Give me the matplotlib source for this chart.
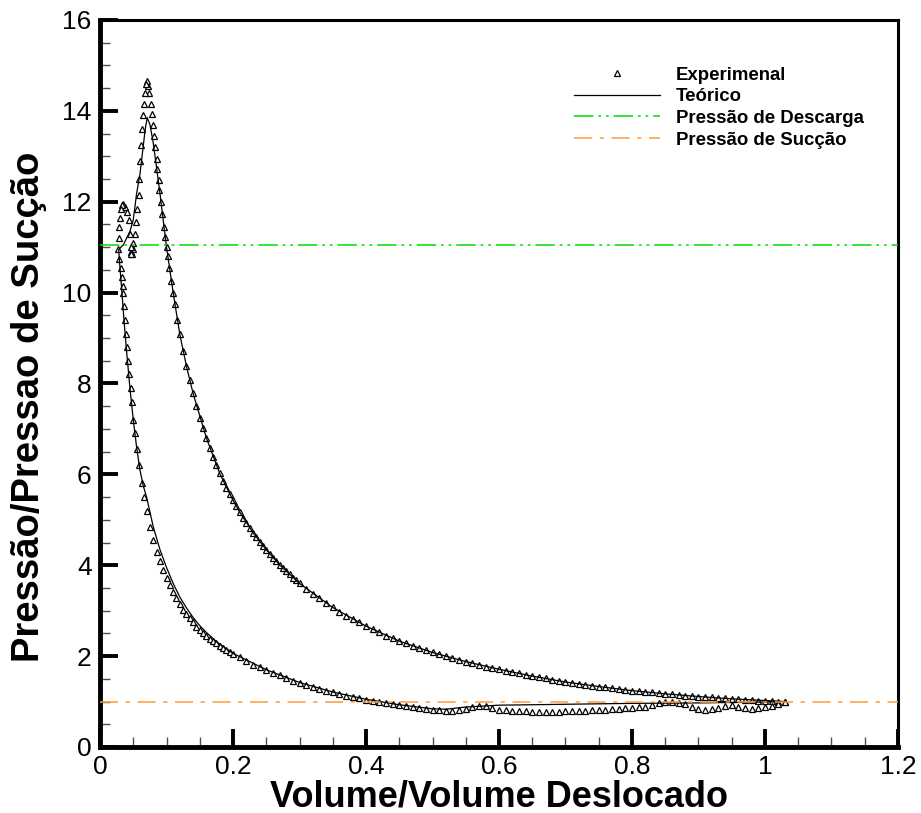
import matplotlib.pyplot as plt
from matplotlib.ticker import MultipleLocator, FuncFormatter

exp_comp_x = [1.03, 1.02, 1.01, 1.00, 0.99, 0.98, 0.97, 0.96, 0.95, 0.94,
              0.93, 0.92, 0.91, 0.90, 0.89, 0.88, 0.87, 0.86, 0.85, 0.84,
              0.83, 0.82, 0.81, 0.80, 0.79, 0.78, 0.77, 0.76, 0.75, 0.74,
              0.73, 0.72, 0.71, 0.70, 0.69, 0.68, 0.67, 0.66, 0.65, 0.64,
              0.63, 0.62, 0.61, 0.60, 0.59, 0.58, 0.57, 0.56, 0.55, 0.54,
              0.53, 0.52, 0.51, 0.50, 0.49, 0.48, 0.47, 0.46, 0.45, 0.44,
              0.43, 0.42, 0.41, 0.40, 0.39, 0.38, 0.37, 0.36, 0.35, 0.34,
              0.33, 0.32, 0.31, 0.30, 0.295, 0.29, 0.285, 0.28, 0.275, 0.27,
              0.265, 0.26, 0.255, 0.25, 0.245, 0.24, 0.235, 0.23, 0.225, 0.22,
              0.215, 0.21, 0.205, 0.20, 0.195, 0.19, 0.185, 0.18, 0.175, 0.17,
              0.165, 0.16, 0.155, 0.15, 0.145, 0.14, 0.135, 0.13, 0.125, 0.12,
              0.116, 0.113, 0.110, 0.107, 0.104, 0.102, 0.100, 0.098, 0.096, 0.093,
              0.091, 0.089, 0.088, 0.086, 0.085, 0.083, 0.081, 0.080, 0.078, 0.076,
              0.074, 0.072, 0.070, 0.069, 0.068, 0.066, 0.064, 0.063, 0.061, 0.060,
              0.059, 0.058, 0.056, 0.054, 0.052, 0.050, 0.049, 0.048, 0.047, 0.046,
              0.047, 0.045, 0.043, 0.040, 0.038, 0.035, 0.033, 0.031, 0.030, 0.029,
              0.028, 0.0275]
exp_comp_y = [1.00, 1.00, 1.01, 1.01, 1.02, 1.03, 1.04, 1.05, 1.06, 1.07,
              1.08, 1.09, 1.10, 1.11, 1.12, 1.13, 1.14, 1.16, 1.17, 1.18,
              1.20, 1.21, 1.23, 1.24, 1.26, 1.27, 1.29, 1.31, 1.33, 1.35,
              1.37, 1.39, 1.41, 1.43, 1.46, 1.48, 1.51, 1.53, 1.56, 1.59,
              1.62, 1.65, 1.68, 1.71, 1.74, 1.77, 1.81, 1.84, 1.88, 1.92,
              1.96, 2.00, 2.04, 2.08, 2.13, 2.18, 2.22, 2.28, 2.33, 2.39,
              2.45, 2.52, 2.59, 2.66, 2.74, 2.81, 2.89, 2.98, 3.07, 3.17,
              3.27, 3.37, 3.48, 3.60, 3.67, 3.73, 3.80, 3.87, 3.94, 4.01,
              4.09, 4.17, 4.25, 4.34, 4.43, 4.52, 4.62, 4.72, 4.83, 4.94,
              5.05, 5.17, 5.30, 5.43, 5.57, 5.71, 5.86, 6.02, 6.20, 6.38,
              6.58, 6.80, 7.02, 7.25, 7.50, 7.78, 8.07, 8.38, 8.72, 9.08,
              9.40, 9.75, 10.00, 10.25, 10.55, 10.80, 11.00, 11.23, 11.45, 11.74,
              12.00, 12.25, 12.48, 12.72, 12.95, 13.20, 13.45, 13.70, 13.94, 14.15,
              14.40, 14.55, 14.65, 14.60, 14.40, 14.15, 13.90, 13.60, 13.25, 12.90,
              12.50, 12.15, 11.85, 11.55, 11.30, 11.10, 10.95, 10.85, 10.90, 10.85,
              11.00, 11.30, 11.60, 11.78, 11.88, 11.95, 11.93, 11.85, 11.65, 11.45,
              11.20, 10.95]

# Experimental points, expansion + suction
exp_expa_x = [0.029, 0.0315, 0.033, 0.034, 0.035, 0.036, 0.0375, 0.039, 0.0405, 0.0425,
              0.044, 0.046, 0.0475, 0.050, 0.052, 0.055, 0.058, 0.0625, 0.066, 0.070,
              0.075, 0.080, 0.085, 0.090, 0.095, 0.100, 0.105, 0.110, 0.115, 0.120,
              0.125, 0.130, 0.135, 0.140, 0.145, 0.150, 0.155, 0.160, 0.165, 0.170,
              0.175, 0.180, 0.185, 0.19, 0.195, 0.20, 0.21, 0.22, 0.23, 0.24,
              0.25, 0.26, 0.27, 0.28, 0.29, 0.30, 0.31, 0.32, 0.33, 0.34,
              0.35, 0.36, 0.37, 0.38, 0.39, 0.40, 0.41, 0.42, 0.43, 0.44,
              0.45, 0.46, 0.47, 0.48, 0.49, 0.50, 0.51, 0.52, 0.53, 0.54,
              0.55, 0.56, 0.57, 0.58, 0.59, 0.60, 0.61, 0.62, 0.63, 0.64,
              0.65, 0.66, 0.67, 0.68, 0.69, 0.70, 0.71, 0.72, 0.73, 0.74,
              0.75, 0.76, 0.77, 0.78, 0.79, 0.80, 0.81, 0.82, 0.83, 0.84,
              0.85, 0.86, 0.87, 0.88, 0.89, 0.90, 0.91, 0.92, 0.93, 0.94,
              0.95, 0.96, 0.97, 0.98, 0.99, 1.00, 1.01, 1.02, 1.03]
exp_expa_y = [10.75, 10.55, 10.35, 10.15, 10.00, 9.70, 9.40, 9.10, 8.80, 8.50,
              8.20, 7.90, 7.60, 7.20, 6.90, 6.55, 6.20, 5.80, 5.50, 5.20,
              4.85, 4.55, 4.30, 4.10, 3.90, 3.72, 3.56, 3.41, 3.27, 3.14,
              3.01, 2.92, 2.83, 2.74, 2.65, 2.57, 2.50, 2.44, 2.38, 2.33,
              2.28, 2.23, 2.18, 2.13, 2.09, 2.05, 1.97, 1.90, 1.81, 1.75,
              1.69, 1.63, 1.58, 1.52, 1.46, 1.41, 1.37, 1.32, 1.28, 1.24,
              1.20, 1.17, 1.13, 1.10, 1.07, 1.04, 1.01, 0.99, 0.96, 0.94,
              0.92, 0.90, 0.88, 0.86, 0.84, 0.82, 0.81, 0.80, 0.80, 0.81,
              0.84, 0.88, 0.91, 0.90, 0.86, 0.82, 0.81, 0.80, 0.79, 0.79,
              0.78, 0.78, 0.78, 0.78, 0.78, 0.79, 0.79, 0.80, 0.80, 0.81,
              0.81, 0.82, 0.83, 0.84, 0.85, 0.86, 0.88, 0.89, 0.93, 0.97,
              1.00, 0.99, 0.97, 0.94, 0.89, 0.84, 0.81, 0.83, 0.86, 0.90,
              0.92, 0.89, 0.85, 0.84, 0.85, 0.87, 0.91, 0.95, 1.00]

# Theoretical cycle
theo_x = [1.03, 0.95, 0.90, 0.85, 0.80, 0.75, 0.70, 0.65, 0.60, 0.55,
          0.50, 0.45, 0.40, 0.35, 0.30, 0.27, 0.25, 0.23, 0.21, 0.20,
          0.18, 0.16, 0.14, 0.13, 0.12, 0.11, 0.10, 0.09, 0.08, 0.075,
          0.071, 0.068, 0.064, 0.060, 0.055, 0.050, 0.045, 0.040, 0.035, 0.030,
          0.028, 0.030, 0.033, 0.036, 0.040, 0.045, 0.050, 0.055, 0.060, 0.065,
          0.070, 0.080, 0.090, 0.100, 0.110, 0.120, 0.130, 0.140, 0.150, 0.160,
          0.175, 0.20, 0.25, 0.30, 0.35, 0.40, 0.45, 0.50, 0.52, 0.55,
          0.60, 0.70, 0.80, 0.90, 0.95, 1.00, 1.03]
theo_y = [1.00, 1.06, 1.11, 1.17, 1.24, 1.33, 1.43, 1.56, 1.71, 1.88,
          2.08, 2.33, 2.66, 3.07, 3.60, 4.01, 4.34, 4.72, 5.17, 5.43,
          6.02, 6.80, 7.78, 8.38, 9.08, 10.00, 11.00, 12.20, 13.30, 13.70,
          13.85, 13.60, 13.10, 12.60, 12.18, 11.60, 11.35, 11.20, 11.05, 10.98,
          10.94, 10.55, 10.00, 9.40, 8.70, 7.90, 7.20, 6.60, 6.10, 5.75,
          5.50, 4.85, 4.35, 3.95, 3.60, 3.30, 3.06, 2.85, 2.67, 2.52,
          2.32, 2.06, 1.70, 1.42, 1.21, 1.05, 0.93, 0.84, 0.83, 0.88,
          0.92, 0.94, 0.96, 0.97, 0.98, 0.99, 1.00]

p_descarga = 11.05
p_succao = 1.0

plt.rcParams['font.family'] = ['Liberation Sans', 'DejaVu Sans']
plt.rcParams['lines.scale_dashes'] = False

fig = plt.figure(figsize=(9.21, 8.13), dpi=100)
ax = fig.add_axes([0.1086, 0.0812, 0.8664, 0.8942])

ax.plot(exp_comp_x + exp_expa_x, exp_comp_y + exp_expa_y, ls='none', marker='^',
        ms=4.8, mfc='white', mec='black', mew=0.9, label='Experimenal', zorder=3)
ax.plot(theo_x, theo_y, color='black', lw=0.9, label='Teórico', zorder=4)
ax.axhline(p_descarga, color='#00dd00', lw=1.1, dashes=(14, 3.5, 2, 3.5, 2, 3.5),
           label='Pressão de Descarga', zorder=5)
ax.axhline(p_succao, color='#ff9a3c', lw=1.1, dashes=(13, 5.5, 3, 5.5),
           label='Pressão de Sucção', zorder=5)

ax.set_xlim(0, 1.2)
ax.set_ylim(0, 16)
ax.xaxis.set_major_locator(MultipleLocator(0.2))
ax.xaxis.set_minor_locator(MultipleLocator(0.05))
ax.yaxis.set_major_locator(MultipleLocator(2))
ax.yaxis.set_minor_locator(MultipleLocator(0.5))
ax.xaxis.set_major_formatter(FuncFormatter(lambda v, p: f'{v:g}'))
ax.yaxis.set_major_formatter(FuncFormatter(lambda v, p: f'{v:g}'))

ax.spines['left'].set_linewidth(3.5)
ax.spines['bottom'].set_linewidth(3.5)
ax.spines['top'].set_linewidth(2.2)
ax.spines['right'].set_linewidth(2.2)

ax.tick_params(which='major', direction='in', length=13, width=2.8,
               labelsize=19, pad=6, top=False, right=False)
ax.tick_params(which='minor', direction='in', length=7, width=1,
               color='0.3', top=False, right=False)

ax.set_xlabel('Volume/Volume Deslocado', fontsize=26, fontweight='bold', labelpad=0)
ax.set_ylabel('Pressão/Pressao de Sucção', fontsize=27.5, fontweight='bold')
ax.yaxis.set_label_coords(-0.067, 0.468)

leg = ax.legend(loc='upper left', bbox_to_anchor=(0.5735, 0.959), frameon=False,
                numpoints=1, handlelength=4.6, handletextpad=0.86, labelspacing=0.25,
                prop={'size': 13.4, 'weight': 'bold'})

fig.savefig('out.png', dpi=100)
